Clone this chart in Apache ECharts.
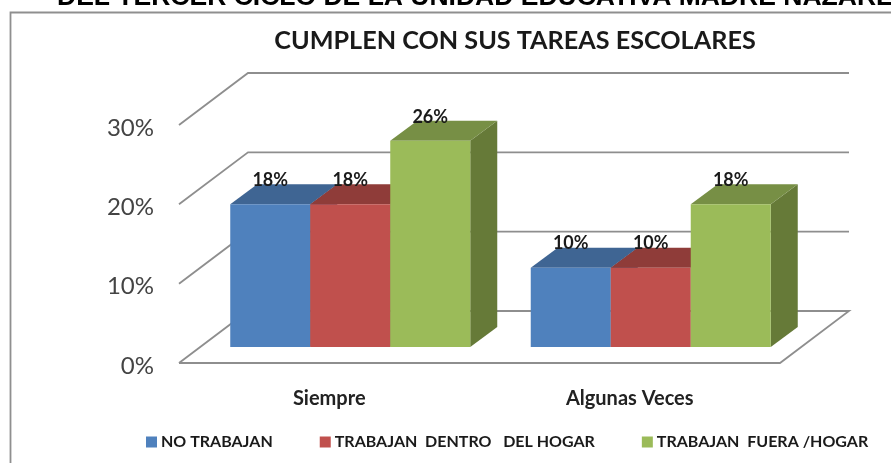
<!DOCTYPE html>
<html>
<head>
<meta charset="utf-8">
<style>
html, body { margin: 0; padding: 0; background: #fff; overflow: hidden; }
#chart { width: 891px; height: 463px; }
</style>
<script src="https://cdn.jsdelivr.net/npm/echarts@6/dist/echarts.min.js"></script>
</head>
<body>
<div id="chart"></div>
<script>
var categories = ['Siempre', 'Algunas Veces'];
var noTrabajan = [18, 10];
var dentroHogar = [18, 10];
var fueraHogar = [26, 18];
var yTicks = [0, 10, 20, 30];

var seriesNames = ['NO TRABAJAN', 'TRABAJAN  DENTRO   DEL HOGAR', 'TRABAJAN  FUERA /HOGAR'];
var seriesValues = [noTrabajan, dentroHogar, fueraHogar];
var frontColors = ['#4f81bd', '#c0504d', '#9bbb59'];
var topColors = ['#3f6593', '#8f3c39', '#778f45'];
var sideColors = ['#365a85', '#7f3432', '#667a38'];

// perspective offsets of the 3d box
var wallDx = 69, wallDy = -52;
var barDx = 27, barDy = -20;
var gapDx = 21, gapDy = -16;
var barShare = 80 / 300.5;

var chartDom = document.getElementById('chart');
var myChart = echarts.init(chartDom, null, { renderer: 'canvas' });

// back wall lines, side wall diagonals and the floor
function renderWall(params, api) {
    var grid = params.coordSys;
    var p = api.coord([0, api.value(1)]);
    var lineStyle = { stroke: '#8e8e8e', lineWidth: 1.8, fill: null };
    var x0 = grid.x;
    var x1 = grid.x + grid.width;
    var points = [[x0, p[1]], [x0 + wallDx, p[1] + wallDy], [x1 + wallDx, p[1] + wallDy]];
    if (api.value(1) === 0) {
        points.push([x1, p[1]], [x0, p[1]]);
    }
    return {
        type: 'polyline',
        shape: { points: points },
        style: lineStyle,
        silent: true
    };
}

function makeBarRenderer(index) {
    return function (params, api) {
        var c = api.coord([api.value(0), api.value(1)]);
        var base = api.coord([api.value(0), 0]);
        var w = api.size([1, 0])[0] * barShare;
        var left = c[0] + gapDx + (index - 1.5) * w;
        var right = left + w;
        var top = c[1] + gapDy;
        var bottom = base[1] + gapDy;
        return {
            type: 'group',
            children: [
                {
                    type: 'polygon',
                    shape: { points: [[right, top], [right + barDx, top + barDy], [right + barDx, bottom + barDy], [right, bottom]] },
                    style: { fill: sideColors[index] }
                },
                {
                    type: 'polygon',
                    shape: { points: [[left, top], [left + barDx, top + barDy], [right + barDx, top + barDy], [right, top]] },
                    style: { fill: topColors[index] }
                },
                {
                    type: 'rect',
                    shape: { x: left, y: top, width: w, height: bottom - top },
                    style: { fill: frontColors[index] }
                },
                {
                    type: 'text',
                    x: left + w / 2,
                    y: top - 24,
                    z2: 50,
                    style: {
                        text: api.value(1) + '%',
                        fill: '#1a1a1a',
                        font: 'bold 18px Lato',
                        align: 'center',
                        verticalAlign: 'middle'
                    }
                }
            ]
        };
    };
}

var series = [{
    name: 'pared',
    type: 'custom',
    z: 1,
    silent: true,
    clip: false,
    renderItem: renderWall,
    encode: { x: 0, y: 1 },
    data: yTicks.map(function (t) { return [0, t]; })
}];

seriesValues.forEach(function (values, index) {
    series.push({
        name: seriesNames[index],
        type: 'custom',
        z: 2 + index,
        clip: false,
        renderItem: makeBarRenderer(index),
        encode: { x: 0, y: 1 },
        itemStyle: { color: frontColors[index] },
        data: values.map(function (v, i) { return [i, v]; })
    });
});

var option = {
    animation: false,
    backgroundColor: '#ffffff',
    title: {
        text: 'CUMPLEN CON SUS TAREAS ESCOLARES',
        left: 510,
        top: 23,
        textAlign: 'center',
        textStyle: { fontFamily: 'Lato', fontWeight: 'bold', fontSize: 25.2, color: '#1a1a1a' }
    },
    grid: { left: 179, right: 111, top: 125, bottom: 100 },
    xAxis: {
        type: 'category',
        data: categories,
        axisLine: { show: false },
        axisTick: { show: false },
        axisLabel: {
            margin: 26,
            fontFamily: 'Lato',
            fontWeight: 'bold',
            fontSize: 20,
            color: '#222222'
        }
    },
    yAxis: {
        type: 'value',
        min: 0,
        max: 30,
        interval: 10,
        axisLine: { show: false },
        axisTick: { show: false },
        splitLine: { show: false },
        axisLabel: {
            margin: 25,
            verticalAlign: 'top',
            padding: [-9, 0, 0, 0],
            fontFamily: 'Lato',
            fontSize: 24,
            color: '#444444',
            formatter: '{value}%'
        }
    },
    legend: {
        left: 146,
        top: 434,
        padding: 0,
        itemWidth: 11,
        itemHeight: 11,
        itemGap: 47,
        icon: 'rect',
        selectedMode: false,
        data: seriesNames,
        textStyle: {
            fontFamily: 'Lato',
            fontWeight: 'bold',
            fontSize: 16,
            color: '#1a1a1a',
            padding: [0, 0, 0, -1]
        }
    },
    graphic: [
        {
            type: 'text',
            x: 57,
            y: 11,
            style: {
                text: 'DEL TERCER CICLO DE LA UNIDAD EDUCATIVA MADRE NAZARENO',
                font: 'bold 26.5px "Liberation Sans"',
                fill: '#000000',
                verticalAlign: 'bottom'
            }
        },
        {
            type: 'polyline',
            shape: { points: [[10.5, 463], [10.5, 12.5], [891, 12.5]] },
            style: { stroke: '#8f8f8f', lineWidth: 1.8, fill: null }
        }
    ],
    series: series
};

option && myChart.setOption(option);
</script>
</body>
</html>
